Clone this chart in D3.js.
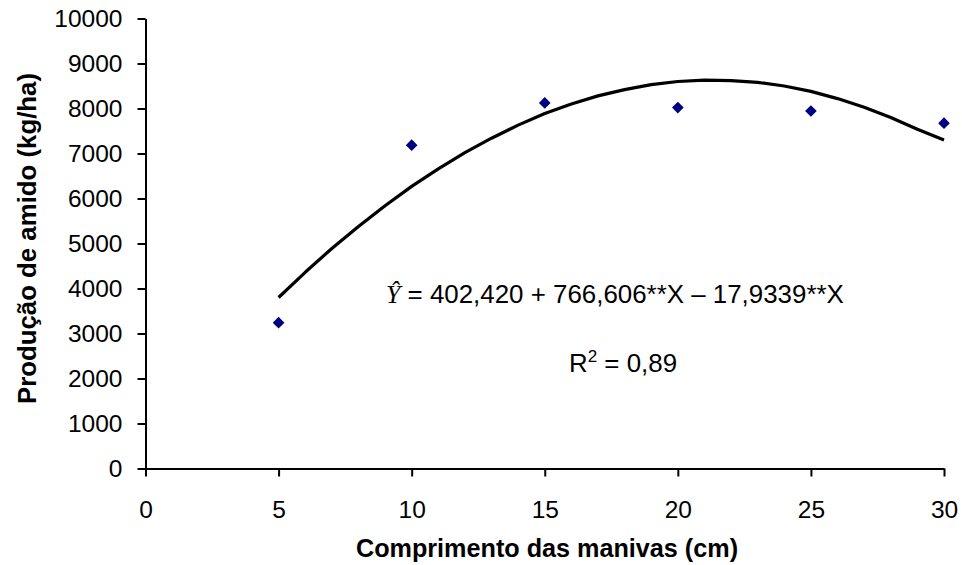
<!DOCTYPE html>
<html>
<head>
<meta charset="utf-8">
<script src="https://cdn.jsdelivr.net/npm/d3@7"></script>
<style>
  html, body { margin: 0; padding: 0; background: #fff; }
  svg { display: block; }
</style>
</head>
<body>
<svg id="chart" width="962" height="565"></svg>
<script>
// Observed data (comprimento das manivas, cm vs produção de amido, kg/ha)
const obsX = [5, 10, 15, 20, 25, 30];
const obsY = [3240, 7185, 8125, 8020, 7945, 7675];

// Fitted curve
const fitX = [5, 6, 7, 8, 9, 10, 11, 12, 13, 14, 15, 16, 17, 18, 19, 20, 21, 22, 23, 24, 25, 26, 27, 28, 29, 30];
const fitY = [3800, 4360, 4890, 5380, 5840, 6270, 6660, 7020, 7340, 7630, 7890, 8100, 8280, 8420, 8530, 8600, 8630, 8620, 8580, 8500, 8380, 8220, 8030, 7800, 7540, 7300];

const xTicks = [0, 5, 10, 15, 20, 25, 30];
const yTicks = [0, 1000, 2000, 3000, 4000, 5000, 6000, 7000, 8000, 9000, 10000];

const xTitle = "Comprimento das manivas (cm)";
const yTitle = "Produção de amido (kg/ha)";
const eqHat = "Ŷ";
const eqText = " = 402,420 + 766,606**X – 17,9339**X";
const r2Text = ["R", "2", " = 0,89"];

const svg = d3.select("#chart");
const font = "'Liberation Sans', Arial, Helvetica, sans-serif";

const x = d3.scaleLinear().domain([0, 30]).range([145.5, 944]);
const y = d3.scaleLinear().domain([0, 10000]).range([468.5, 18.5]);

// Y axis
const yAxis = svg.append("g")
  .attr("transform", `translate(${x(0)},0)`)
  .call(d3.axisLeft(y).tickValues(yTicks).tickFormat(d3.format("d")).tickSize(8).tickPadding(15).tickSizeOuter(0));
// X axis
const xAxis = svg.append("g")
  .attr("transform", `translate(0,${y(0)})`)
  .call(d3.axisBottom(x).tickValues(xTicks).tickFormat(d3.format("d")).tickSize(8).tickPadding(24).tickSizeOuter(0));

[yAxis, xAxis].forEach(g => {
  g.select(".domain").attr("stroke", "#000").attr("stroke-width", 2);
  g.selectAll(".tick line").attr("stroke", "#000").attr("stroke-width", 2);
  g.selectAll(".tick text").attr("fill", "#000").style("font-family", font).style("font-size", "24.5px");
});

// Fitted curve
const line = d3.line().x((d, i) => x(fitX[i])).y(d => y(d)).curve(d3.curveLinear);
svg.append("path")
  .datum(fitY)
  .attr("d", line)
  .attr("fill", "none")
  .attr("stroke", "#000")
  .attr("stroke-width", 3.2)
  .attr("stroke-linejoin", "round");

// Observed points (diamonds)
const sym = d3.symbol().type(d3.symbolSquare).size(68);
svg.append("g").selectAll("path")
  .data(obsY)
  .join("path")
  .attr("d", sym)
  .attr("transform", (d, i) => `translate(${x(obsX[i])},${y(d)}) rotate(45)`)
  .attr("fill", "#000080");

// Axis titles
svg.append("text")
  .attr("x", 547).attr("y", 557)
  .attr("text-anchor", "middle")
  .style("font-family", font).style("font-size", "25.2px").style("font-weight", "bold")
  .text(xTitle);

svg.append("text")
  .attr("transform", "translate(36,238.5) rotate(-90)")
  .attr("text-anchor", "middle")
  .style("font-family", font).style("font-size", "25.8px").style("font-weight", "bold")
  .text(yTitle);

// Equation
const eq = svg.append("text")
  .attr("x", 386).attr("y", 303)
  .style("font-family", font).style("font-size", "25.9px").attr("fill", "#000");
eq.append("tspan")
  .style("font-family", "'Liberation Serif', 'Times New Roman', serif")
  .style("font-style", "italic")
  .text(eqHat);
eq.append("tspan").text(eqText);

const r2 = svg.append("text")
  .attr("x", 569).attr("y", 372)
  .style("font-family", font).style("font-size", "25.9px").attr("fill", "#000");
r2.append("tspan").text(r2Text[0]);
r2.append("tspan").attr("dy", -10).style("font-size", "17px").text(r2Text[1]);
r2.append("tspan").attr("dy", 10).text(r2Text[2]);
</script>
</body>
</html>
